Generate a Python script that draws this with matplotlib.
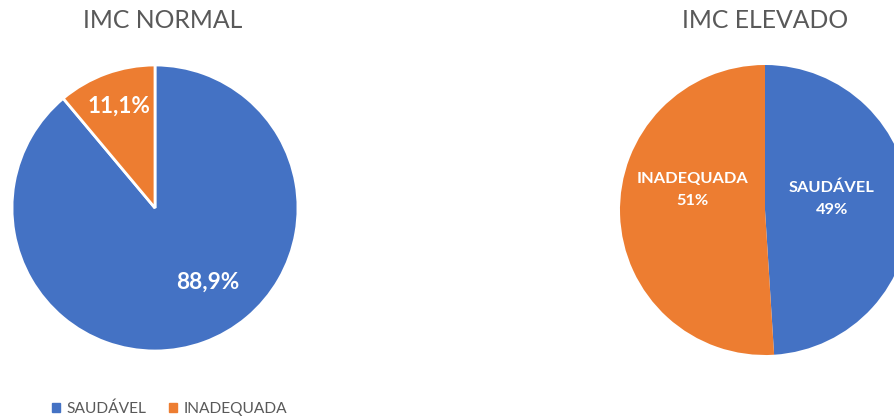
import matplotlib.pyplot as plt
from matplotlib.patches import Rectangle

plt.rcParams['font.family'] = ['Lato', 'DejaVu Sans']

categories = ['SAUDÁVEL', 'INADEQUADA']
normal_vals = [88.9, 11.1]
elevado_vals = [49, 51]
normal_labels = ['88,9%', '11,1%']
elevado_labels = ['SAUDÁVEL\n49%', 'INADEQUADA\n51%']

colors = ['#4472C4', '#ED7D31']
W, H = 895, 420

fig = plt.figure(figsize=(W / 100, H / 100), dpi=100)


def pie_axes(cx, cy, r):
    # axes in pixel coordinates, square around the pie
    return fig.add_axes([(cx - r) / W, (H - cy - r) / H, 2 * r / W, 2 * r / H])


# left pie
ax1 = pie_axes(155, 208, 143)
ax1.pie(normal_vals, colors=colors, startangle=90, counterclock=False,
        radius=1, wedgeprops=dict(edgecolor='white', linewidth=2))
ax1.set_xlim(-1, 1)
ax1.set_ylim(-1, 1)
ax1.axis('off')
for (x, y), lab in zip([(0.37, -0.52), (-0.25, 0.71)], normal_labels):
    ax1.text(x, y, lab, ha='center', va='center', color='white',
             fontsize=16.3, fontweight='bold')

# right pie
ax2 = pie_axes(765, 210, 145)
ax2.pie(elevado_vals, colors=colors, startangle=90, counterclock=False,
        radius=1, wedgeprops=dict(linewidth=0))
ax2.set_xlim(-1, 1)
ax2.set_ylim(-1, 1)
ax2.axis('off')
for (x, y), lab in zip([(0.46, 0.08), (-0.5, 0.14)], elevado_labels):
    ax2.text(x, y, lab, ha='center', va='center', color='white',
             fontsize=11.8, fontweight='bold', linespacing=1.7)

fig.text(163 / W, 1 - 21 / H, 'IMC NORMAL', ha='center', va='center',
         fontsize=17.8, color='#595959')
fig.text(765 / W, 1 - 21 / H, 'IMC ELEVADO', ha='center', va='center',
         fontsize=17.8, color='#595959')

# legend
handles = [Rectangle((0, 0), 1, 1, color=c) for c in colors]
fig.legend(handles, categories, loc='center left', bbox_to_anchor=(38 / W, 1 - 409 / H),
           ncol=2, frameon=False, fontsize=11.2, labelcolor='#595959',
           handlelength=0.5, handleheight=0.5, handletextpad=0.4, columnspacing=1.5)

fig.savefig('out.png', dpi=100, facecolor='white')
